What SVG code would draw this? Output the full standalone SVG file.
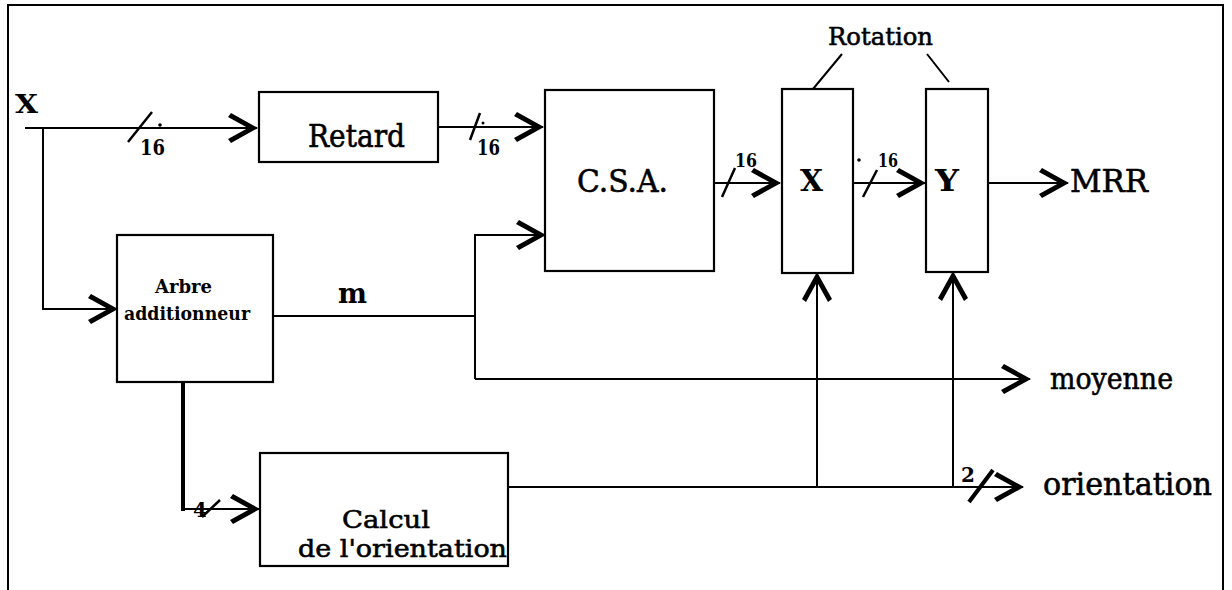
<svg xmlns="http://www.w3.org/2000/svg" width="1232" height="590" viewBox="0 0 1232 590">
<style>
.box{fill:#fff;stroke:#000;stroke-width:2.2}
.ln{fill:none;stroke:#000;stroke-width:2}
.sl{fill:none;stroke:#000;stroke-width:2.5}
.t{font-family:"DejaVu Serif","Liberation Serif",serif;fill:#000;stroke:#000;stroke-width:0.6}
.b{font-family:"DejaVu Serif","Liberation Serif",serif;font-weight:bold;fill:#000}
</style>
<defs>
<marker id="ah" markerUnits="userSpaceOnUse" orient="auto" refX="0" refY="0" markerWidth="40" markerHeight="40" overflow="visible">
<path d="M1,0 L-26,-15 L-29,-11 L-9,0 L-29,11 L-26,15 Z" fill="#000"/>
</marker>
</defs>
<rect width="1232" height="590" fill="#fff"/>
<path class="ln" d="M8,590 V5 H1223 V590"/>

<g id="connectors">
<path class="ln" d="M25,128 H257" marker-end="url(#ah)"/>
<path class="ln" d="M43,128 V309 H117" marker-end="url(#ah)"/>
<path class="ln" d="M438,127 H543" marker-end="url(#ah)"/>
<path class="ln" d="M273,316 H475"/>
<path class="ln" d="M475,379 V235 H545" marker-end="url(#ah)"/>
<path class="ln" d="M475,379 H1030" marker-end="url(#ah)"/>
<path fill="none" stroke="#000" stroke-width="4" d="M183,382 V511"/>
<path class="ln" d="M181,509 H259" marker-end="url(#ah)"/>
<path class="ln" d="M714,183 H780" marker-end="url(#ah)"/>
<path class="ln" d="M853,183 H925" marker-end="url(#ah)"/>
<path class="ln" d="M988,183 H1068" marker-end="url(#ah)"/>
<path class="ln" d="M508,487 H1023" marker-end="url(#ah)"/>
<path class="ln" d="M817,487 V273" marker-end="url(#ah)"/>
<path class="ln" d="M953,487 V272" marker-end="url(#ah)"/>
<path class="ln" d="M842,54 L813,89 M927,54 L949,82"/>
<path class="sl" d="M128,142 L152,112 M470,140 L480,113 M722,197 L735,168 M863,197 L877,170 M202,517 L220,500"/>
<path fill="none" stroke="#000" stroke-width="4" d="M969,502 L993,470"/>
<g fill="#000">
<circle cx="160" cy="125" r="1.8"/>
<circle cx="483" cy="123" r="1.5"/>
<circle cx="859" cy="160" r="1.8"/>
<circle cx="980" cy="160" r="1.8"/>
</g>
<text class="b" x="140" y="155" font-size="22" textLength="25" lengthAdjust="spacingAndGlyphs">16</text>
<text class="b" x="477" y="155" font-size="22" textLength="23" lengthAdjust="spacingAndGlyphs">16</text>
<text class="b" x="735" y="167" font-size="18" textLength="22" lengthAdjust="spacingAndGlyphs">16</text>
<text class="b" x="878" y="167" font-size="18" textLength="20" lengthAdjust="spacingAndGlyphs">16</text>
<text class="b" x="193" y="517" font-size="20">4</text>
<text class="b" x="961" y="482" font-size="20">2</text>
<text class="b" x="338" y="303" font-size="28" textLength="29" lengthAdjust="spacingAndGlyphs">m</text>
</g>

<text class="b" x="15" y="113" font-size="26" textLength="23" lengthAdjust="spacingAndGlyphs">X</text>
<text class="t" x="828" y="45" font-size="25" textLength="105" lengthAdjust="spacingAndGlyphs">Rotation</text>
<text class="t" x="1070" y="192" font-size="32" textLength="78" lengthAdjust="spacingAndGlyphs">MRR</text>
<text class="t" x="1050" y="389" font-size="30" textLength="123" lengthAdjust="spacingAndGlyphs">moyenne</text>
<text class="t" x="1043" y="495" font-size="31" textLength="169" lengthAdjust="spacingAndGlyphs">orientation</text>

<g id="retard">
<rect class="box" x="259" y="92" width="179" height="70"/>
<text class="t" x="308" y="147" font-size="32" textLength="97" lengthAdjust="spacingAndGlyphs">Retard</text>
</g>
<g id="csa">
<rect class="box" x="545" y="90" width="169" height="181"/>
<text class="t" x="577" y="192" font-size="32" textLength="91" lengthAdjust="spacingAndGlyphs">C.S.A.</text>
</g>
<g id="rotX">
<rect class="box" x="782" y="89" width="71" height="184"/>
<text class="b" x="800" y="191" font-size="30" textLength="23" lengthAdjust="spacingAndGlyphs">X</text>
</g>
<g id="rotY">
<rect class="box" x="926" y="89" width="62" height="183"/>
<text class="b" x="935" y="191" font-size="30" textLength="24" lengthAdjust="spacingAndGlyphs">Y</text>
</g>
<g id="arbre">
<rect class="box" x="117" y="235" width="156" height="147"/>
<text class="b" x="155" y="293" font-size="19" textLength="57" lengthAdjust="spacingAndGlyphs">Arbre</text>
<text class="b" x="124" y="320" font-size="19" textLength="126" lengthAdjust="spacingAndGlyphs">additionneur</text>
</g>
<g id="calcul">
<rect class="box" x="260" y="453" width="248" height="113"/>
<text class="t" x="342" y="528" font-size="25" textLength="88" lengthAdjust="spacingAndGlyphs">Calcul</text>
<text class="t" x="298" y="557" font-size="25" textLength="209" lengthAdjust="spacingAndGlyphs">de l'orientation</text>
</g>
</svg>
